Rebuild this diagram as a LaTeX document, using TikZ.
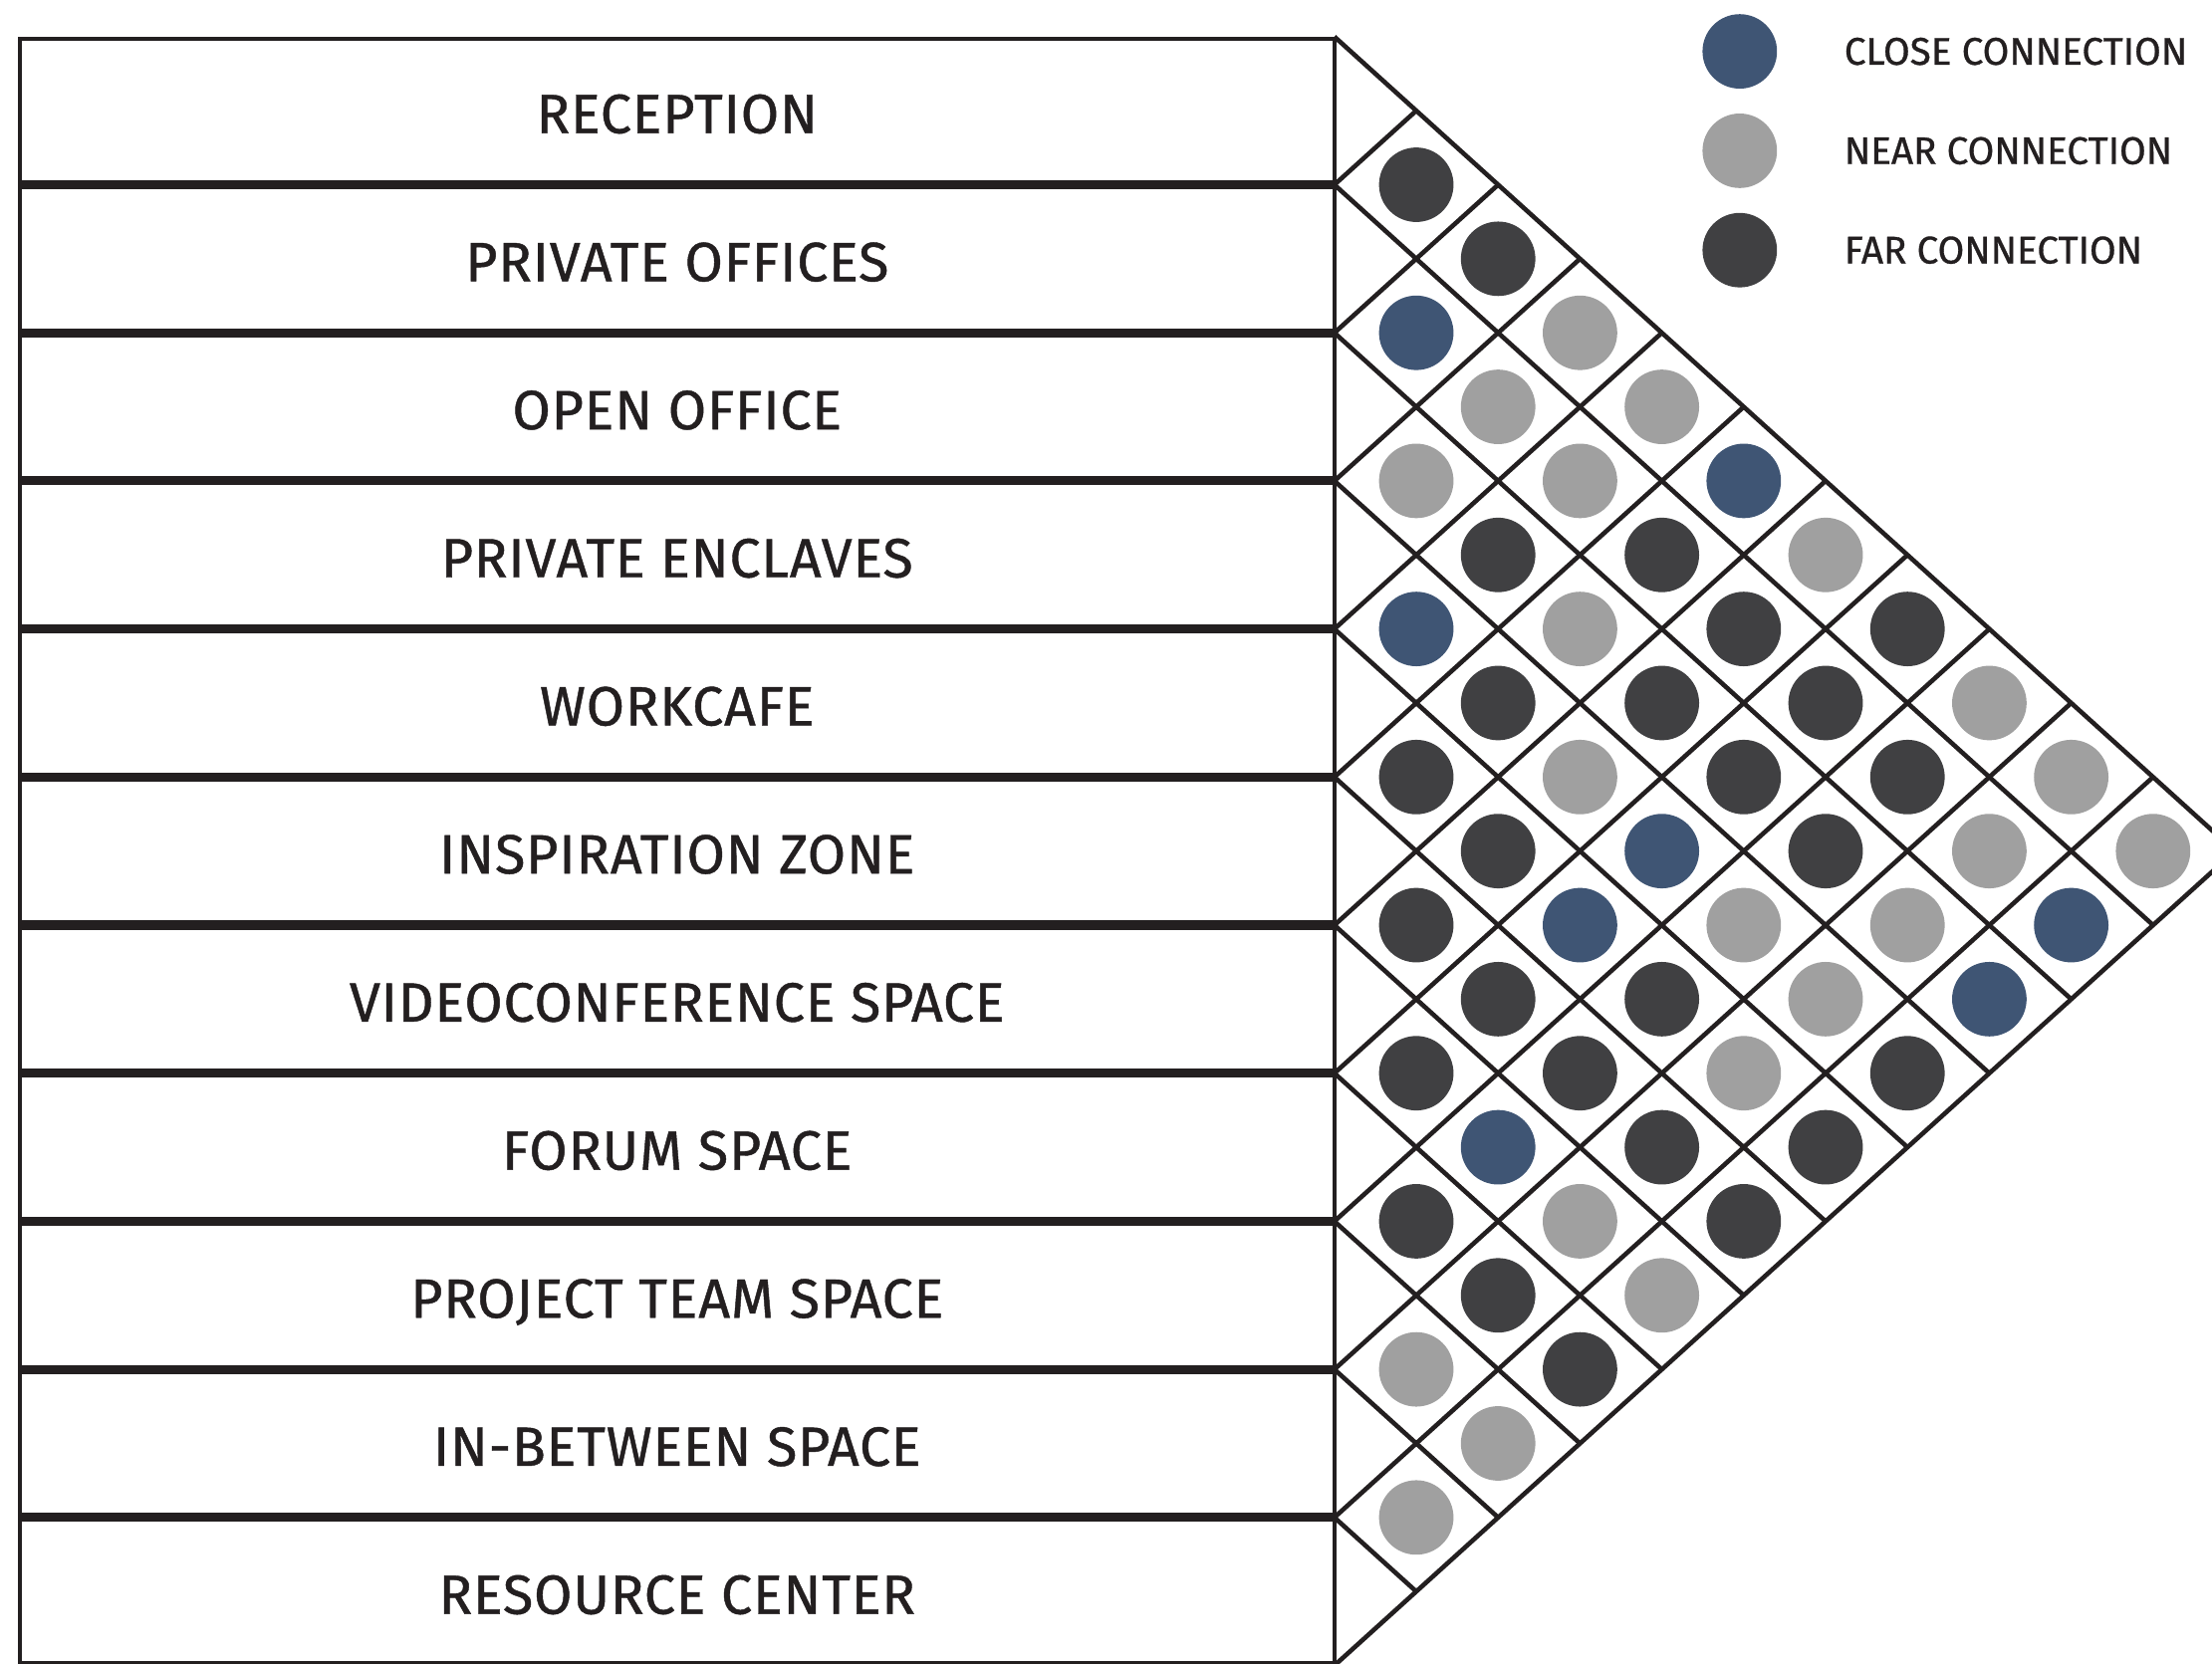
\documentclass[tikz,border=0pt]{standalone}
\usepackage{fontspec}
\setmainfont{Fira Sans}[FakeBold=0.8]
\newfontfamily\labelfont{Fira Sans}[LetterSpace=1.5, FakeBold=0.8]
\definecolor{lineblack}{HTML}{231F20}
\definecolor{closeblue}{HTML}{3F5574}
\definecolor{neargray}{HTML}{A0A0A0}
\definecolor{fardark}{HTML}{404042}
\usetikzlibrary{positioning, calc}

\begin{document}
\begin{tikzpicture}[
    line width=1.3pt, draw=lineblack,
    rowbox/.style={draw=lineblack, rectangle, minimum width=13.2cm, minimum height=1.442cm,
      inner sep=0pt, outer sep=0pt, text=lineblack, font=\labelfont\fontsize{15.8}{18}\selectfont},
    dot/.style={circle, minimum size=0.748cm, inner sep=0pt, outer sep=0pt, draw=none},
    legendtext/.style={inner sep=0pt, outer sep=0pt, text=lineblack, font=\fontsize{11}{13}\selectfont}
  ]
    \useasboundingbox (-0.198,0.368) rectangle (22.012,-16.332);
    \def\h{1.487}
    \def\w{0.822}
    \def\xr{13.2}
    % Space list
    \foreach \name [count=\i] in {RECEPTION, PRIVATE OFFICES, OPEN OFFICE, PRIVATE ENCLAVES,
        WORKCAFE, INSPIRATION ZONE, VIDEOCONFERENCE SPACE, FORUM SPACE,
        PROJECT TEAM SPACE, IN-BETWEEN SPACE, RESOURCE CENTER}
      \node[rowbox] (row\i) at (6.6, {-(\i-0.5)*\h}) {\raisebox{-0.3mm}[\height][0pt]{\name}};
    % Diagonal grid
    \foreach \k in {0,...,11}
      \coordinate (b\k) at (\xr, {-\k*\h});
    \foreach \k in {0,...,10}
      \draw[lineblack] (b\k) -- ++({(11-\k)*\w}, {-(11-\k)*\h/2});
    \foreach \k in {1,...,11}
      \draw[lineblack] (b\k) -- ++({\k*\w}, {\k*\h/2});
    % Connections (row i / row j / colour)
    \foreach \i/\j/\c in {1/2/fardark, 1/3/fardark, 2/3/closeblue, 1/4/neargray,
        2/4/neargray, 1/5/neargray, 3/4/neargray, 2/5/neargray, 1/6/closeblue,
        3/5/fardark, 2/6/fardark, 1/7/neargray, 4/5/closeblue, 3/6/neargray,
        2/7/fardark, 1/8/fardark, 4/6/fardark, 3/7/fardark, 2/8/fardark, 1/9/neargray,
        5/6/fardark, 4/7/neargray, 3/8/fardark, 2/9/fardark, 1/10/neargray,
        5/7/fardark, 4/8/closeblue, 3/9/fardark, 2/10/neargray, 1/11/neargray,
        6/7/fardark, 5/8/closeblue, 4/9/neargray, 3/10/neargray, 2/11/closeblue,
        6/8/fardark, 5/9/fardark, 4/10/neargray, 3/11/closeblue,
        7/8/fardark, 6/9/fardark, 5/10/neargray, 4/11/fardark,
        7/9/closeblue, 6/10/fardark, 5/11/fardark,
        8/9/fardark, 7/10/neargray, 6/11/fardark,
        8/10/fardark, 7/11/neargray, 9/10/neargray, 8/11/fardark,
        9/11/neargray, 10/11/neargray}
      \node[dot, fill=\c] (p\i-\j) at ({\xr+(\j-\i)*\w}, {-(\i+\j-1)*\h/2}) {};
    % Legend
    \node[dot, fill=closeblue] (lgclose) at (17.27,-0.148) {};
    \node[dot, fill=neargray, below=0.25cm of lgclose] (lgnear) {};
    \node[dot, fill=fardark, below=0.25cm of lgnear] (lgfar) {};
    \node[legendtext, right=0.676cm of lgclose] (lgclosetxt) {CLOSE CONNECTION};
    \node[legendtext, right=0.676cm of lgnear] (lgneartxt) {NEAR CONNECTION};
    \node[legendtext, right=0.676cm of lgfar] (lgfartxt) {FAR CONNECTION};
\end{tikzpicture}
\end{document}
